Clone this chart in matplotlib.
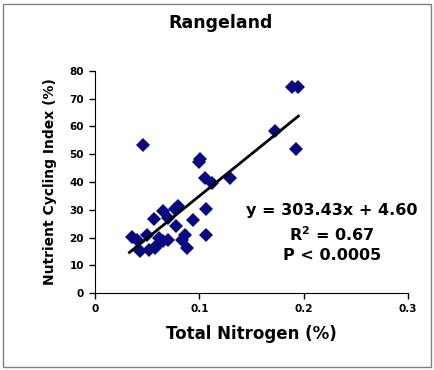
import numpy as np
import matplotlib.pyplot as plt
from matplotlib.patches import Rectangle

plt.rcParams['font.family'] = ['DejaVu Sans']

# данные
total_n = [0.0456, 0.189, 0.195, 0.173, 0.193, 0.100, 0.101, 0.105, 0.112, 0.129,
           0.106, 0.106, 0.0935, 0.080, 0.077, 0.0776, 0.065, 0.0565, 0.070, 0.035,
           0.040, 0.043, 0.0495, 0.052, 0.0575, 0.0615, 0.065, 0.070, 0.083, 0.086,
           0.088, 0.059]
nci = [53.4, 74.1, 74.1, 58.2, 51.9, 47.3, 48.3, 41.4, 39.8, 41.4,
       30.2, 21.0, 26.4, 31.4, 30.2, 24.2, 29.4, 26.7, 27.0, 20.1,
       19.2, 15.3, 21.0, 15.6, 16.2, 19.8, 18.6, 19.2, 19.2, 21.0,
       16.2, 17.4]
slope, intercept = 303.43, 4.60
x_ticks = [0, 0.1, 0.2, 0.3]
y_ticks = [0, 10, 20, 30, 40, 50, 60, 70, 80]

fig = plt.figure(figsize=(4.34, 3.70), dpi=100)
ax = fig.add_axes([95 / 434, 1 - 293 / 370, (408 - 95) / 434, (293 - 71) / 370])

ax.plot(total_n, nci, linestyle='none', marker='D', markersize=7.3,
        color='#0a0a80', markeredgewidth=0)

xl = np.array([min(total_n) - 0.002, max(total_n)])
ax.plot(xl, slope * xl + intercept, color='black', linewidth=2)

ax.set_xlim(0, 0.3)
ax.set_ylim(0, 80)
ax.set_xticks(x_ticks)
ax.set_xticklabels(['0', '0.1', '0.2', '0.3'])
ax.set_yticks(y_ticks)
for lab in ax.get_xticklabels() + ax.get_yticklabels():
    lab.set_fontweight('bold')
    lab.set_fontsize(7.5)
ax.tick_params(length=4, width=1, pad=4)
ax.spines['top'].set_visible(False)
ax.spines['right'].set_visible(False)

ax.set_xlabel('Total Nitrogen (%)', fontsize=12, fontweight='bold', labelpad=8)
ax.set_ylabel('Nutrient Cycling Index (%)', fontsize=10, fontweight='bold', labelpad=9)
fig.text(221 / 434, 1 - 23 / 370, 'Rangeland', ha='center', va='center',
         fontsize=12.5, fontweight='bold')

eq_x = 0.227
ax.text(eq_x, 29.8, 'y = 303.43x + 4.60', ha='center', va='center',
        fontsize=11.5, fontweight='bold')
ax.text(eq_x, 21.2, 'R$^\\mathbf{2}$ = 0.67', ha='center', va='center',
        fontsize=11.5, fontweight='bold')
ax.text(eq_x, 13.6, 'P < 0.0005', ha='center', va='center',
        fontsize=11.5, fontweight='bold')

fig.patches.append(Rectangle((3 / 434, 3 / 370), 428 / 434, 363 / 370,
                             transform=fig.transFigure, fill=False,
                             edgecolor='#808080', linewidth=1))

fig.savefig('out.png', dpi=100)
